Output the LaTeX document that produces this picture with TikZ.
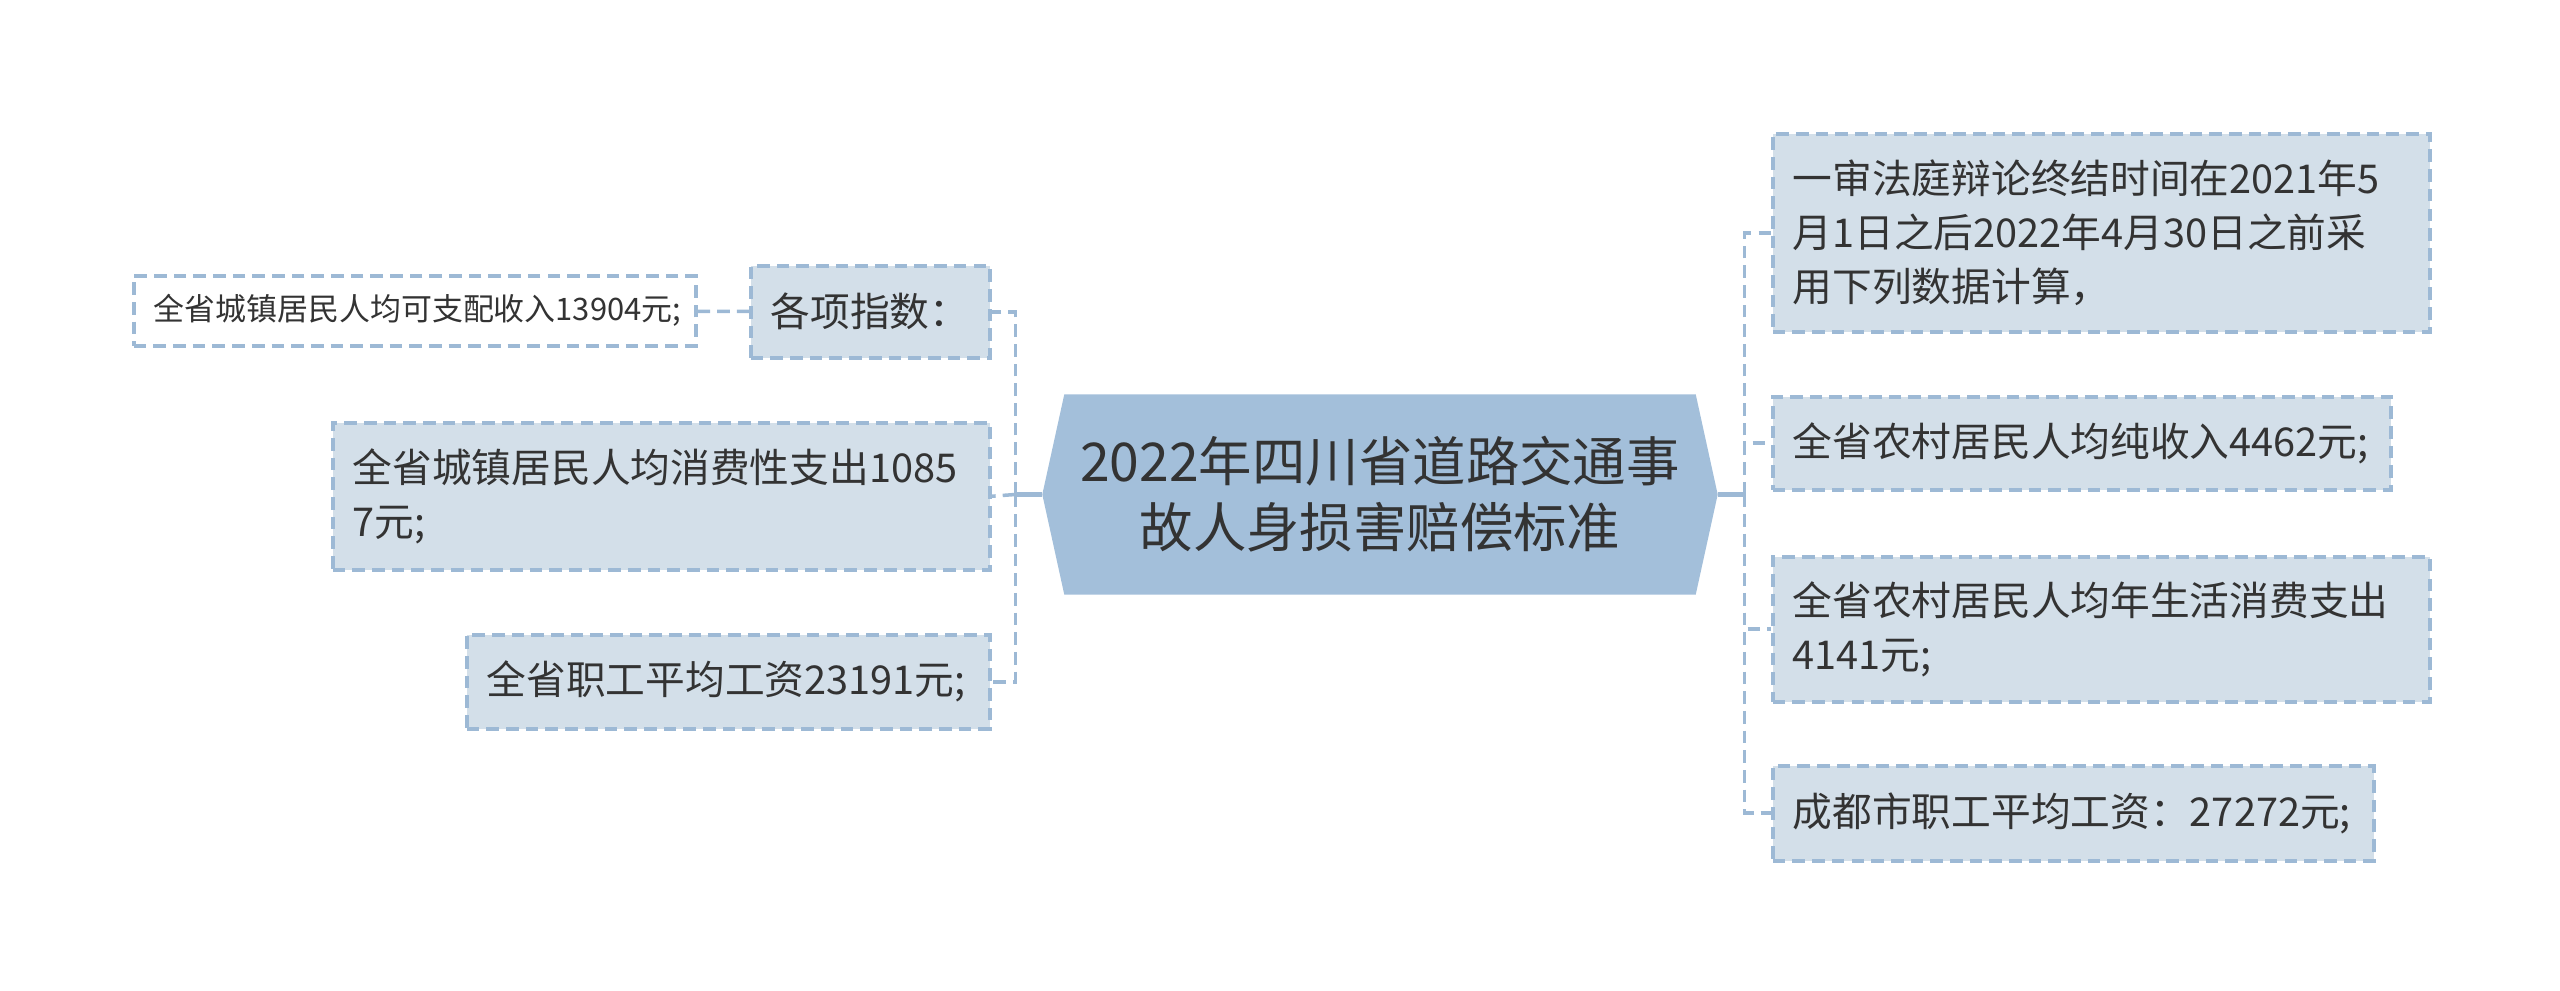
\documentclass[tikz,border=0pt]{standalone}
\usepackage{fontspec}
\setmainfont{Noto Sans CJK SC}
\usetikzlibrary{positioning, calc, backgrounds}
\definecolor{rootblue}{HTML}{A3BFDA}
\definecolor{boxblue}{HTML}{D3DFE9}
\definecolor{lineblue}{HTML}{9DB9D5}
\definecolor{textgray}{HTML}{333333}

\begin{document}
\begin{tikzpicture}[
        root/.style={minimum width=6.3cm, minimum height=1.99cm, inner xsep=0pt, align=center, text=textgray, font=\fontsize{15.2}{18.8}\selectfont},
        item/.style={draw=lineblue, line width=1pt, dash pattern=on 3.6pt off 2pt, fill=boxblue, align=left, anchor=north west, inner xsep=0.2cm, text=textgray, font=\fontsize{11.3}{15.4}\selectfont},
        note/.style={item, fill=white, font=\fontsize{8.8}{11}\selectfont},
        link/.style={draw=lineblue, line width=1pt, dash pattern=on 3.6pt off 2pt},
        stub/.style={draw=lineblue, line width=1.4pt}
    ]
        \useasboundingbox (0,0) rectangle (25.6,-9.91);

        % Central topic
        \node[root] (root) at (13.8, -4.945) {2022年四川省道路交通事\\故人身损害赔偿标准};
        \coordinate (rootL) at ($(root.west)+(-0.22,0)$);
        \coordinate (rootR) at ($(root.east)+(0.22,0)$);
        \coordinate (lbus) at ($(root.west)+(-0.49,0)$);
        \coordinate (rbus) at ($(root.east)+(0.49,0)$);
        \begin{scope}[on background layer]
            \fill[rootblue] (root.north west) -- (root.north east) -- (rootR) -- (root.south east) -- (root.south west) -- (rootL) -- cycle;
        \end{scope}

        % Left branch
        \node[item, text width=1.99cm, minimum height=0.92cm] (idx) at (7.49, -2.64) {各项指数：};
        \node[note, text width=5.22cm, minimum height=0.70cm] (sub) at (1.32, -2.74) {全省城镇居民人均可支配收入13904元;};
        \node[item, text width=6.17cm, minimum height=1.47cm] (cons) at (3.31, -4.21) {全省城镇居民人均消费性支出1085\\7元;};
        \node[item, text width=4.83cm, minimum height=0.94cm] (wage) at (4.65, -6.33) {全省职工平均工资23191元;};

        % Right branch
        \node[item, text width=6.17cm, minimum height=1.98cm] (period) at (17.71, -1.32) {一审法庭辩论终结时间在2021年5\\月1日之后2022年4月30日之前采\\用下列数据计算，};
        \node[item, text width=5.78cm, minimum height=0.93cm] (rinc) at (17.71, -3.95) {全省农村居民人均纯收入4462元;};
        \node[item, text width=6.17cm, minimum height=1.45cm] (rcons) at (17.71, -5.55) {全省农村居民人均年生活消费支出\\4141元;};
        \node[item, text width=5.61cm, minimum height=0.95cm] (cdwage) at (17.71, -7.64) {成都市职工平均工资：27272元;};

        % Connectors
        \draw[stub] (rootL) -- (lbus);
        \draw[stub] (rootR) -- (rbus);
        \draw[link] (lbus) |- (idx.east);
        \draw[link] (lbus) -- (cons.east);
        \draw[link] (lbus) |- (wage.east);
        \draw[link] (sub) -- (idx);
        \draw[link] (rbus) |- (period.west);
        \draw[link] (rbus) |- (rinc.west);
        \draw[link] (rbus) |- (rcons.west);
        \draw[link] (rbus) |- (cdwage.west);
    \end{tikzpicture}
\end{document}
